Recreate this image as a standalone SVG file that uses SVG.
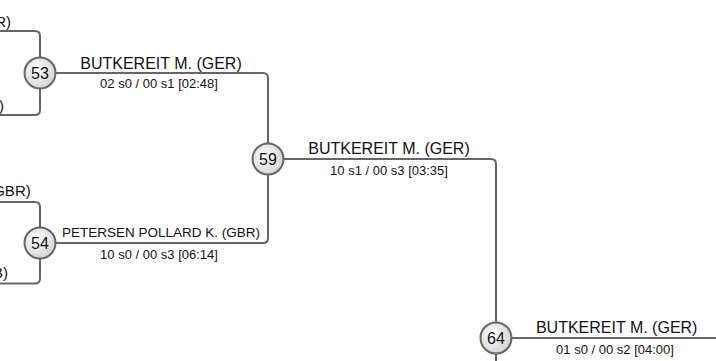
<svg xmlns="http://www.w3.org/2000/svg" width="716" height="361" viewBox="0 0 716 361">
<defs>
<radialGradient id="g" cx="0.4" cy="0.4" r="0.7">
<stop offset="0" stop-color="#ffffff"/>
<stop offset="1" stop-color="#cfcfcf"/>
</radialGradient>
</defs>
<style>
.c{fill:none;stroke:#666;stroke-width:2}
.n circle{fill:url(#g);stroke:#666;stroke-width:2}
.n text{font-family:"Liberation Sans",Arial,sans-serif;font-size:16px;fill:#111;text-anchor:middle}
.nm{font-family:"Liberation Sans",Arial,sans-serif;font-size:16px;fill:#111;text-anchor:middle}
.sc{font-family:"Liberation Sans",Arial,sans-serif;font-size:13px;fill:#111;text-anchor:middle}
.lf{font-family:"Liberation Sans",Arial,sans-serif;font-size:15px;fill:#111;text-anchor:end}
</style>
<rect width="716" height="361" fill="#fff"/>
<g id="connectors">
<path class="c" d="M-5 31H35Q40 31 40 36V57"/>
<path class="c" d="M-5 115H35Q40 115 40 110V89"/>
<path class="c" d="M55.5 73H263Q268 73 268 78V143"/>
<path class="c" d="M-5 202H35Q40 202 40 207V227"/>
<path class="c" d="M-5 283.5H35Q40 283.5 40 278.5V259"/>
<path class="c" d="M55.5 243H263Q268 243 268 238V175"/>
<path class="c" d="M283.5 159H491Q496 159 496 164V322"/>
<path class="c" d="M511.5 338H720"/>
<path class="c" d="M496 354V365"/>
</g>
<g id="labels">
<text class="lf" x="11" y="26.5">R)</text>
<text class="lf" x="4" y="110.5">)</text>
<text class="lf" x="30.7" y="196">GBR)</text>
<text class="lf" x="8" y="278">B)</text>
<text class="nm" x="161" y="68.5">BUTKEREIT M. (GER)</text>
<text class="sc" x="159" y="88">02 s0 / 00 s1 [02:48]</text>
<text class="nm" x="161" y="237" style="font-size:13.5px">PETERSEN POLLARD K. (GBR)</text>
<text class="sc" x="159" y="259">10 s0 / 00 s3 [06:14]</text>
<text class="nm" x="389" y="154">BUTKEREIT M. (GER)</text>
<text class="sc" x="389" y="174.5">10 s1 / 00 s3 [03:35]</text>
<text class="nm" x="616.7" y="333">BUTKEREIT M. (GER)</text>
<text class="sc" x="615" y="353.5">01 s0 / 00 s2 [04:00]</text>
</g>
<g id="m53" class="n"><circle cx="40" cy="73" r="15.5"/><text x="40" y="78.8">53</text></g>
<g id="m54" class="n"><circle cx="40" cy="243" r="15.5"/><text x="40" y="248.8">54</text></g>
<g id="m59" class="n"><circle cx="268" cy="159" r="15.5"/><text x="268" y="164.8">59</text></g>
<g id="m64" class="n"><circle cx="496" cy="338" r="15.5"/><text x="496" y="343.8">64</text></g>
</svg>
